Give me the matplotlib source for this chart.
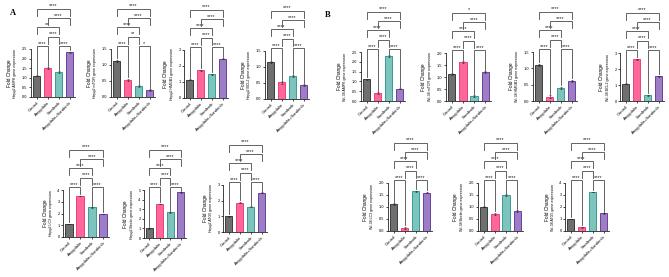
import matplotlib
matplotlib.use('Agg')
import matplotlib.pyplot as plt
from matplotlib.transforms import blended_transform_factory

plt.rcParams['font.family'] = ['Liberation Sans', 'DejaVu Sans']

W, H = 669, 277
categories = ["Control", "Amygdalin", "Sorafenib", "Amygdalin+Sorafenib"]

# ---- data (fold change) ----
hepg2_ampk = [1.11, 1.50, 1.30, 2.32]
hepg2_mtor = [1.13, 0.53, 0.34, 0.21]
hepg2_hmgb1 = [1.14, 1.74, 1.49, 2.44]
hepg2_bcl2 = [1.15, 0.52, 0.72, 0.43]
wi38_ampk = [1.10, 0.40, 2.30, 0.62]
wi38_mtor = [1.12, 1.61, 0.21, 1.21]
wi38_hmgb1 = [1.11, 0.13, 0.41, 0.62]
wi38_bcl2 = [1.08, 2.60, 0.36, 1.56]
hepg2_lc3 = [1.10, 3.49, 2.52, 1.96]
hepg2_beclin = [1.00, 3.53, 2.66, 4.76]
hepg2_atg5 = [1.00, 1.88, 1.62, 2.52]
wi38_lc3 = [1.13, 0.14, 1.65, 1.60]
wi38_beclin = [1.01, 0.72, 1.50, 0.83]
wi38_atg5 = [1.00, 0.33, 3.25, 1.47]

# small error values (SEM)
err_small = [0.03, 0.04, 0.03, 0.03]

# comparisons: (0,1),(2,3),(1,2),(0,2),(1,3),(0,3)
pairs = [(0, 1), (2, 3), (1, 2), (0, 2), (1, 3), (0, 3)]
levels = [1, 1, 2, 3, 4, 5]
sig_all4 = ["****"] * 6
sig_hepg2_ampk = ["****", "****", "****", "**", "****", "****"]
sig_hepg2_mtor = ["****", "*", "**", "****", "****", "****"]
sig_wi38_mtor = ["****", "****", "****", "****", "****", "*"]

ylabels = ["Hepg2 AMPK gene expression", "Hepg2 mTOR gene expression",
           "Hepg2 HMGB1 gene expression", "Hepg2 BCL2 gene expression",
           "WI-38 AMPK gene expression", "WI-38 mTOR gene expression",
           "WI-38 HMGB1 gene expression", "WI-38 BCL2 gene expression",
           "Hepg2 LC3 gene expression", "Hepg2 Beclin gene expression",
           "Hepg2 ATG5 gene expression", "WI-38 LC3 gene expression",
           "WI-38 Beclin gene expression", "WI-38 ATG5 gene expression"]

values = [hepg2_ampk, hepg2_mtor, hepg2_hmgb1, hepg2_bcl2,
          wi38_ampk, wi38_mtor, wi38_hmgb1, wi38_bcl2,
          hepg2_lc3, hepg2_beclin, hepg2_atg5,
          wi38_lc3, wi38_beclin, wi38_atg5]
sigs = [sig_hepg2_ampk, sig_hepg2_mtor, sig_all4, sig_all4,
        sig_all4, sig_wi38_mtor, sig_all4, sig_all4,
        sig_all4, sig_all4, sig_all4, sig_all4, sig_all4, sig_all4]
# (ymax, tick step)
yscales = [(2.5, 0.5), (1.5, 0.5), (3, 1), (1.5, 0.5),
           (2.5, 0.5), (2.0, 0.5), (1.5, 0.5), (3, 1),
           (4, 1), (5, 1), (3, 1), (2.0, 0.5), (2.0, 0.5), (4, 1)]
# pixel boxes: left, right, top, bottom
boxes = [(31, 75, 49, 97), (111, 155, 49, 97), (184, 228, 50, 98), (265, 309, 51, 99),
         (361, 405, 52, 101), (446, 491, 53, 101), (533, 577, 52, 101), (620, 664, 53, 101),
         (63, 109, 190, 237), (144, 186, 190, 238), (223, 267, 185, 232),
         (388, 432, 183, 231), (478, 523, 183, 231), (565, 609, 183, 231)]

fills = ["#6f6f6f", "#ff669b", "#7cc4bd", "#9d7ec6"]
edges = ["#2a2a2a", "#e8306d", "#23918a", "#5b2d8f"]
line_col = "#4a4a4a"

fig = plt.figure(figsize=(W / 100, H / 100), dpi=100)
fig.patch.set_facecolor("white")

for i in range(14):
    l, r, t, b = boxes[i]
    ax = fig.add_axes([l / W, 1 - b / H, (r - l) / W, (b - t) / H])
    hpx = b - t
    ymax, step = yscales[i]
    vals = values[i]
    x = list(range(4))
    ax.bar(x, vals, width=0.68, color=fills, edgecolor=edges, linewidth=0.6, zorder=2)
    ax.errorbar(x, vals, yerr=err_small, fmt="none", ecolor="#222222",
                elinewidth=0.4, capsize=1.0, capthick=0.4, zorder=3)
    ax.set_xlim(-0.5, 3.5)
    ax.set_ylim(0, ymax)
    nt = int(round(ymax / step))
    ticks = [k * step for k in range(nt + 1)]
    ax.set_yticks(ticks)
    if step < 1:
        ax.set_yticklabels([f"{v:.1f}" for v in ticks])
    else:
        ax.set_yticklabels([f"{int(v)}" for v in ticks])
    ax.set_xticks(x)
    ax.set_xticklabels(categories, rotation=45, ha="right", rotation_mode="anchor")
    ax.tick_params(axis="y", length=1.5, width=0.5, labelsize=2.8, pad=1)
    ax.tick_params(axis="x", length=1.5, width=0.5, labelsize=3.0, pad=1)
    for s in ["top", "right"]:
        ax.spines[s].set_visible(False)
    for s in ["left", "bottom"]:
        ax.spines[s].set_linewidth(0.6)
        ax.spines[s].set_color("#222222")
    ax.set_facecolor("none")

    # y labels
    wpx = r - l
    off1, off2 = (22, 16) if step < 1 else (18, 12)
    ax.text(-off1 / wpx, 0.5, "Fold Change", rotation=90, ha="center", va="center",
            fontsize=3.4, transform=ax.transAxes)
    ax.text(-off2 / wpx, 0.5, ylabels[i], rotation=90, ha="center", va="center",
            fontsize=2.6, transform=ax.transAxes)

    # significance brackets
    tr = blended_transform_factory(ax.transData, ax.transAxes)
    for (a, c), lev, lab in zip(pairs, levels, sigs[i]):
        yb = 1 + (3 + (lev - 1) * 9.3) / hpx
        if lev == 1:
            ya = (vals[a] + err_small[a]) / ymax + 1.5 / hpx
            yc = (vals[c] + err_small[c]) / ymax + 1.5 / hpx
        else:
            ya = yc = yb - 7 / hpx
        ax.plot([a, a, c, c], [ya, yb, yb, yc], color=line_col, lw=0.6,
                transform=tr, clip_on=False, zorder=4, solid_joinstyle="miter")
        ax.text((a + c) / 2, yb + 0.3 / hpx, lab, ha="center", va="bottom",
                fontsize=4.0, transform=tr, color="#222222")

fig.text(13 / W, 1 - 13 / H, "A", fontsize=6, fontweight="bold",
         family="Liberation Serif", ha="center", va="center")
fig.text(328 / W, 1 - 15 / H, "B", fontsize=6, fontweight="bold",
         family="Liberation Serif", ha="center", va="center")

fig.savefig("out.png", dpi=100, facecolor="white")
